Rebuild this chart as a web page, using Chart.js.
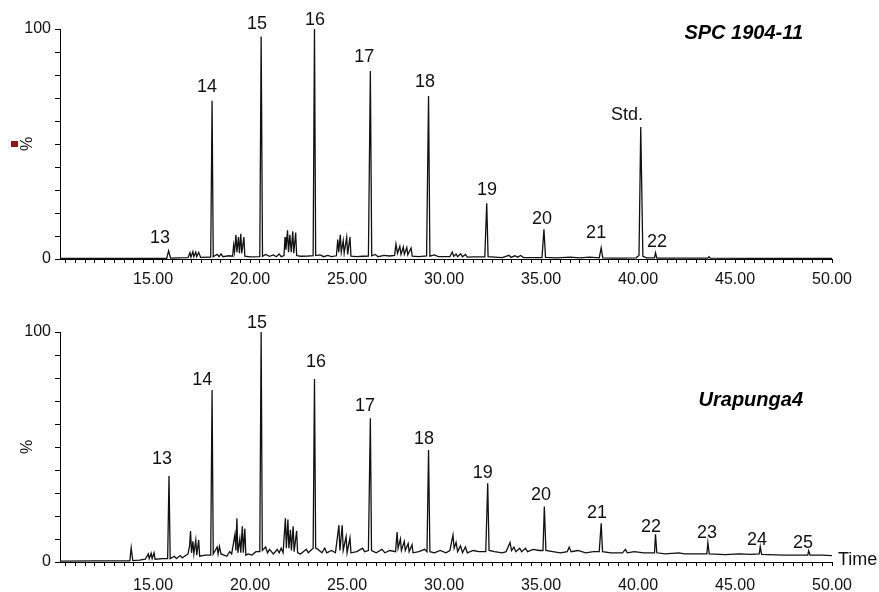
<!DOCTYPE html>
<html>
<head>
<meta charset="utf-8">
<script src="https://cdn.jsdelivr.net/npm/chart.js@4.4.0/dist/chart.umd.min.js"></script>
<style>
  html, body { margin: 0; padding: 0; background: #fff; }
  .panel { position: absolute; left: 0; width: 879px; height: 296px; }
</style>
</head>
<body>
<div class="panel" style="top:0px"><canvas id="topChart"></canvas></div>
<div class="panel" style="top:296px"><canvas id="bottomChart"></canvas></div>
<script>
// retention time axis (minutes)
var timeMin = 10.2;
var timeMax = 50;
var timeLabels = [15, 20, 25, 30, 35, 40, 45, 50];
var percentLabels = [0, 100];

// SPC 1904-11 trace: [time, relative abundance %]
var topTrace = [
  [10.2,0.3],[12.5,0.3],[15.7,0.3],[15.8,3.6],[15.9,0.4],[16.3,0.5],[16.8,0.6],[16.9,2.8],[16.95,0.8],
  [17.05,3.2],[17.1,1.0],[17.2,3.0],[17.25,1.0],[17.35,2.9],[17.45,0.7],[17.9,0.8],[17.97,0.8],
  [18.04,68.8],[18.1,1.0],[18.3,2.0],[18.4,1.0],[18.5,2.2],[18.6,1.0],[18.9,1.4],[19.1,1.2],[19.15,6],
  [19.2,3],[19.27,10.5],[19.32,3],[19.4,9.5],[19.45,2.5],[19.52,11],[19.57,2.5],[19.68,9.5],[19.73,1.2],
  [20.0,0.9],[20.5,1.0],[20.57,96.7],[20.64,1.2],[20.8,2.0],[21.0,1.2],[21.2,1.8],[21.35,1.0],[21.5,2.2],
  [21.6,1.0],[21.75,1.5],[21.8,9.5],[21.85,4],[21.93,12.5],[21.98,3],[22.05,10.5],[22.12,3],[22.2,12],
  [22.25,2.5],[22.35,11.5],[22.4,1.5],[22.6,1.2],[23.0,1.3],[23.25,1.5],[23.32,100],[23.38,1.5],
  [23.6,1.8],[23.8,1.0],[24.0,1.6],[24.2,1.0],[24.45,1.4],[24.52,8.5],[24.57,3],[24.65,10.5],[24.7,3],
  [24.8,8],[24.85,2.5],[24.98,9.5],[25.03,2],[25.15,9.5],[25.2,1.2],[25.5,1.0],[25.8,1.2],[26.1,1.3],
  [26.2,81.7],[26.27,1.4],[26.45,2.0],[26.6,1.0],[26.9,1.6],[27.2,1.3],[27.45,1.6],[27.52,6.5],[27.6,2.5],
  [27.72,5.5],[27.78,2],[27.9,5.2],[27.95,2],[28.08,5],[28.13,1.8],[28.3,4.8],[28.36,1.2],[28.7,1.0],
  [29.1,1.3],[29.2,70.9],[29.27,1.2],[29.5,1.8],[29.7,1.0],[30.0,1.0],[30.3,1.0],[30.42,3.0],[30.5,1.2],
  [30.62,2.2],[30.7,1.0],[30.85,2.3],[30.95,1.0],[31.1,2.0],[31.2,0.8],[31.5,0.9],[32.1,0.9],[32.2,24.2],
  [32.27,1.0],[32.6,0.8],[33.0,0.6],[33.35,1.6],[33.45,0.7],[33.65,1.4],[33.8,0.8],[33.95,1.5],[34.1,0.6],
  [34.5,0.6],[35.05,0.6],[35.15,12.9],[35.23,0.7],[35.8,0.5],[36.5,0.8],[37.0,0.5],[37.5,0.8],[38.0,0.5],
  [38.1,4.9],[38.18,0.5],[38.6,0.4],[39.3,0.4],[39.9,0.5],[40.05,1.5],[40.14,57.4],[40.25,1.2],
  [40.45,0.5],[40.85,0.5],[40.9,2.7],[40.97,0.4],[41.5,0.4],[43.6,0.4],[43.65,1.0],[43.72,0.4],
  [46.0,0.3],[50.0,0.3]
];

// Urapunga4 trace: [time, relative abundance %]
var bottomTrace = [
  [10.2,0.4],[12.0,0.5],[13.8,0.5],[13.87,6.2],[13.95,0.6],[14.3,0.8],[14.6,1.2],[14.75,3.5],[14.8,1.5],
  [14.9,3.8],[14.95,1.5],[15.05,4],[15.1,1.2],[15.5,1.5],[15.75,1.5],[15.82,37.4],[15.88,1.5],[16.1,2.5],
  [16.2,1.5],[16.4,2.8],[16.5,1.8],[16.8,3.5],[16.88,7],[16.93,13.5],[16.98,4],[17.05,9],[17.1,3.5],
  [17.2,9.5],[17.25,3],[17.35,9.5],[17.4,2.5],[17.7,3],[17.97,3],[18.04,74.8],[18.1,3.5],[18.3,6.5],
  [18.35,3.5],[18.42,6.8],[18.5,3.5],[18.8,2.5],[18.95,4.5],[19.05,3.5],[19.15,8.5],[19.22,12],[19.27,5],
  [19.32,19],[19.37,4],[19.47,10],[19.52,4],[19.6,15.5],[19.65,4],[19.73,14.5],[19.78,3],[19.9,3.5],
  [20.1,3],[20.3,4.5],[20.5,4.5],[20.57,100],[20.63,5],[20.8,6.5],[20.9,4],[21.0,5.5],[21.2,3.5],
  [21.4,5.5],[21.5,4],[21.6,6],[21.7,4],[21.82,19],[21.87,6],[21.95,18.5],[22.0,6],[22.08,14],[22.13,5],
  [22.22,15.5],[22.27,4.5],[22.4,13.5],[22.45,4],[22.6,3.5],[22.9,5.5],[23.0,4],[23.25,6],[23.32,79.6],
  [23.38,6],[23.5,5.5],[23.7,4],[23.85,6],[23.95,4],[24.2,5],[24.4,4],[24.58,16],[24.63,5],[24.75,16],
  [24.8,5],[24.95,11],[25.0,4],[25.15,10.5],[25.2,4],[25.5,4.5],[25.8,6],[25.9,4.5],[26.1,5],[26.2,62.5],
  [26.26,5],[26.5,4],[26.8,5.5],[26.95,4],[27.2,5],[27.5,4.5],[27.58,13],[27.63,6],[27.75,10],[27.8,5],
  [27.95,9],[28.0,5],[28.15,8],[28.2,4.5],[28.35,7.5],[28.4,4],[28.7,4.5],[29.0,5.5],[29.12,4.5],
  [29.2,48.7],[29.27,4.5],[29.5,4],[29.8,5],[30.1,4],[30.3,5],[30.46,11.7],[30.52,6],[30.62,8.5],
  [30.7,4.5],[30.85,7],[30.95,4],[31.1,6.5],[31.2,4],[31.5,5],[31.8,4.5],[32.15,4.5],[32.25,34.2],
  [32.32,5],[32.6,4.5],[33.0,4],[33.2,4.5],[33.4,8.5],[33.48,5],[33.6,6.5],[33.7,4.5],[33.9,6],[34.0,4.5],
  [34.2,6],[34.3,4.5],[34.6,5.5],[34.9,5],[35.1,5],[35.17,24.1],[35.25,5],[35.6,4.5],[36.0,4],[36.35,4.5],
  [36.45,6.5],[36.55,4.5],[36.9,5],[37.3,4],[37.7,4.5],[38.0,4.5],[38.1,16.8],[38.17,4.5],[38.6,4],
  [39.2,4],[39.35,5.5],[39.45,4],[39.8,4.5],[40.3,4],[40.85,4],[40.9,12],[40.97,4],[41.4,3.5],[42.1,4],
  [42.4,3.5],[43.0,3.5],[43.55,3.5],[43.6,8.4],[43.67,3.5],[44.5,3.2],[45.2,3.5],[45.8,3.3],[46.25,3.5],
  [46.3,6.7],[46.37,3.3],[47.5,3.0],[48.75,3.0],[48.8,4.9],[48.87,3.0],[49.5,3.0],[50.0,2.8]
];

// peak annotations (label text, anchor time, anchor %)
var topPeakNames = ['13', '14', '15', '16', '17', '18', '19', '20', '21', 'Std.', '22'];
var topPeakTimes = [15.36, 17.78, 20.36, 23.35, 25.88, 29.02, 32.22, 35.05, 37.84, 39.43, 40.98];
var topPeakLevels = [9.1, 74.8, 102.2, 103.9, 87.8, 77, 30, 17.4, 11.3, 62.6, 7.4];

var bottomPeakNames = ['13', '14', '15', '16', '17', '18', '19', '20', '21', '22', '23', '24', '25'];
var bottomPeakTimes = [15.46, 17.53, 20.36, 23.4, 25.93, 28.97, 32.0, 35.0, 37.89, 40.67, 43.56, 46.13, 48.5];
var bottomPeakLevels = [44.8, 79.1, 103.9, 87, 67.8, 53.5, 38.7, 29.1, 21.3, 15.2, 12.6, 9.6, 8.3];

var FONT = '"Liberation Sans", Arial, sans-serif';

function annotate(names, times, levels, title, isTop) {
  return {
    id: 'annotate',
    afterDatasetsDraw: function (chart) {
      var ctx = chart.ctx, xs = chart.scales.x, ys = chart.scales.y;
      ctx.save();
      ctx.fillStyle = '#111';
      ctx.textAlign = 'center';
      ctx.textBaseline = 'middle';
      ctx.font = '18px ' + FONT;
      for (var i = 0; i < names.length; i++) {
        ctx.fillText(names[i], xs.getPixelForValue(times[i]), ys.getPixelForValue(levels[i]));
      }
      // sample name
      ctx.fillStyle = '#000';
      ctx.font = 'italic bold 20px ' + FONT;
      ctx.textAlign = 'right';
      ctx.fillText(title, 803, isTop ? 33 : 104);
      // y axis title
      ctx.fillStyle = '#111';
      ctx.font = '16px ' + FONT;
      ctx.textAlign = 'center';
      ctx.translate(28, ys.getPixelForValue(50));
      ctx.rotate(-Math.PI / 2);
      ctx.fillText('%', 0, 0);
      ctx.restore();
      ctx.save();
      if (isTop) {
        ctx.fillStyle = '#8b1a1a';
        ctx.fillRect(11, ys.getPixelForValue(50) - 3, 7, 6);
      } else {
        ctx.fillStyle = '#111';
        ctx.font = '18px ' + FONT;
        ctx.textAlign = 'left';
        ctx.textBaseline = 'middle';
        ctx.fillText('Time', 838, ys.getPixelForValue(0) - 2);
      }
      ctx.restore();
    }
  };
}

function makeChart(id, trace, names, times, levels, title, isTop) {
  var minorTicks = [];
  for (var k = 21; k <= 100; k++) minorTicks.push({ value: k / 2 });
  var yTicks = [];
  for (var j = 0; j <= 10; j++) yTicks.push({ value: j * 10 });

  return new Chart(document.getElementById(id), {
    type: 'line',
    data: {
      datasets: [{
        data: trace.map(function (p) { return { x: p[0], y: p[1] }; }),
        borderColor: '#111',
        borderWidth: 1.3,
        pointRadius: 0,
        tension: 0,
        fill: false
      }]
    },
    options: {
      responsive: true,
      maintainAspectRatio: false,
      animation: false,
      layout: { padding: { top: isTop ? 29 : 36, right: 47, left: 0, bottom: 0 } },
      plugins: { legend: { display: false }, tooltip: { enabled: false } },
      scales: {
        x: {
          type: 'linear',
          min: timeMin,
          max: timeMax,
          afterBuildTicks: function (s) { s.ticks = minorTicks.slice(); },
          afterFit: function (s) { s.height = isTop ? 37 : 30; },
          grid: { drawOnChartArea: false, drawTicks: true, tickLength: 4, tickColor: '#000' },
          border: { color: '#000', width: 1 },
          ticks: {
            autoSkip: false,
            maxRotation: 0,
            padding: isTop ? 7 : 10,
            color: '#111',
            font: { family: FONT, size: 16 },
            callback: function (v) { return timeLabels.indexOf(v) >= 0 ? v.toFixed(2) : ''; }
          }
        },
        y: {
          min: 0,
          max: 100,
          afterBuildTicks: function (s) { s.ticks = yTicks.slice(); },
          afterFit: function (s) { s.width = 60; },
          grid: { drawOnChartArea: false, drawTicks: true, tickLength: 5, tickColor: '#000' },
          border: { color: '#000', width: 1 },
          ticks: {
            autoSkip: false,
            padding: 4,
            color: '#111',
            font: { family: FONT, size: 16 },
            callback: function (v) { return percentLabels.indexOf(v) >= 0 ? String(v) : ''; }
          }
        }
      }
    },
    plugins: [annotate(names, times, levels, title, isTop)]
  });
}

makeChart('topChart', topTrace, topPeakNames, topPeakTimes, topPeakLevels, 'SPC 1904-11', true);
makeChart('bottomChart', bottomTrace, bottomPeakNames, bottomPeakTimes, bottomPeakLevels, 'Urapunga4', false);
</script>
</body>
</html>
